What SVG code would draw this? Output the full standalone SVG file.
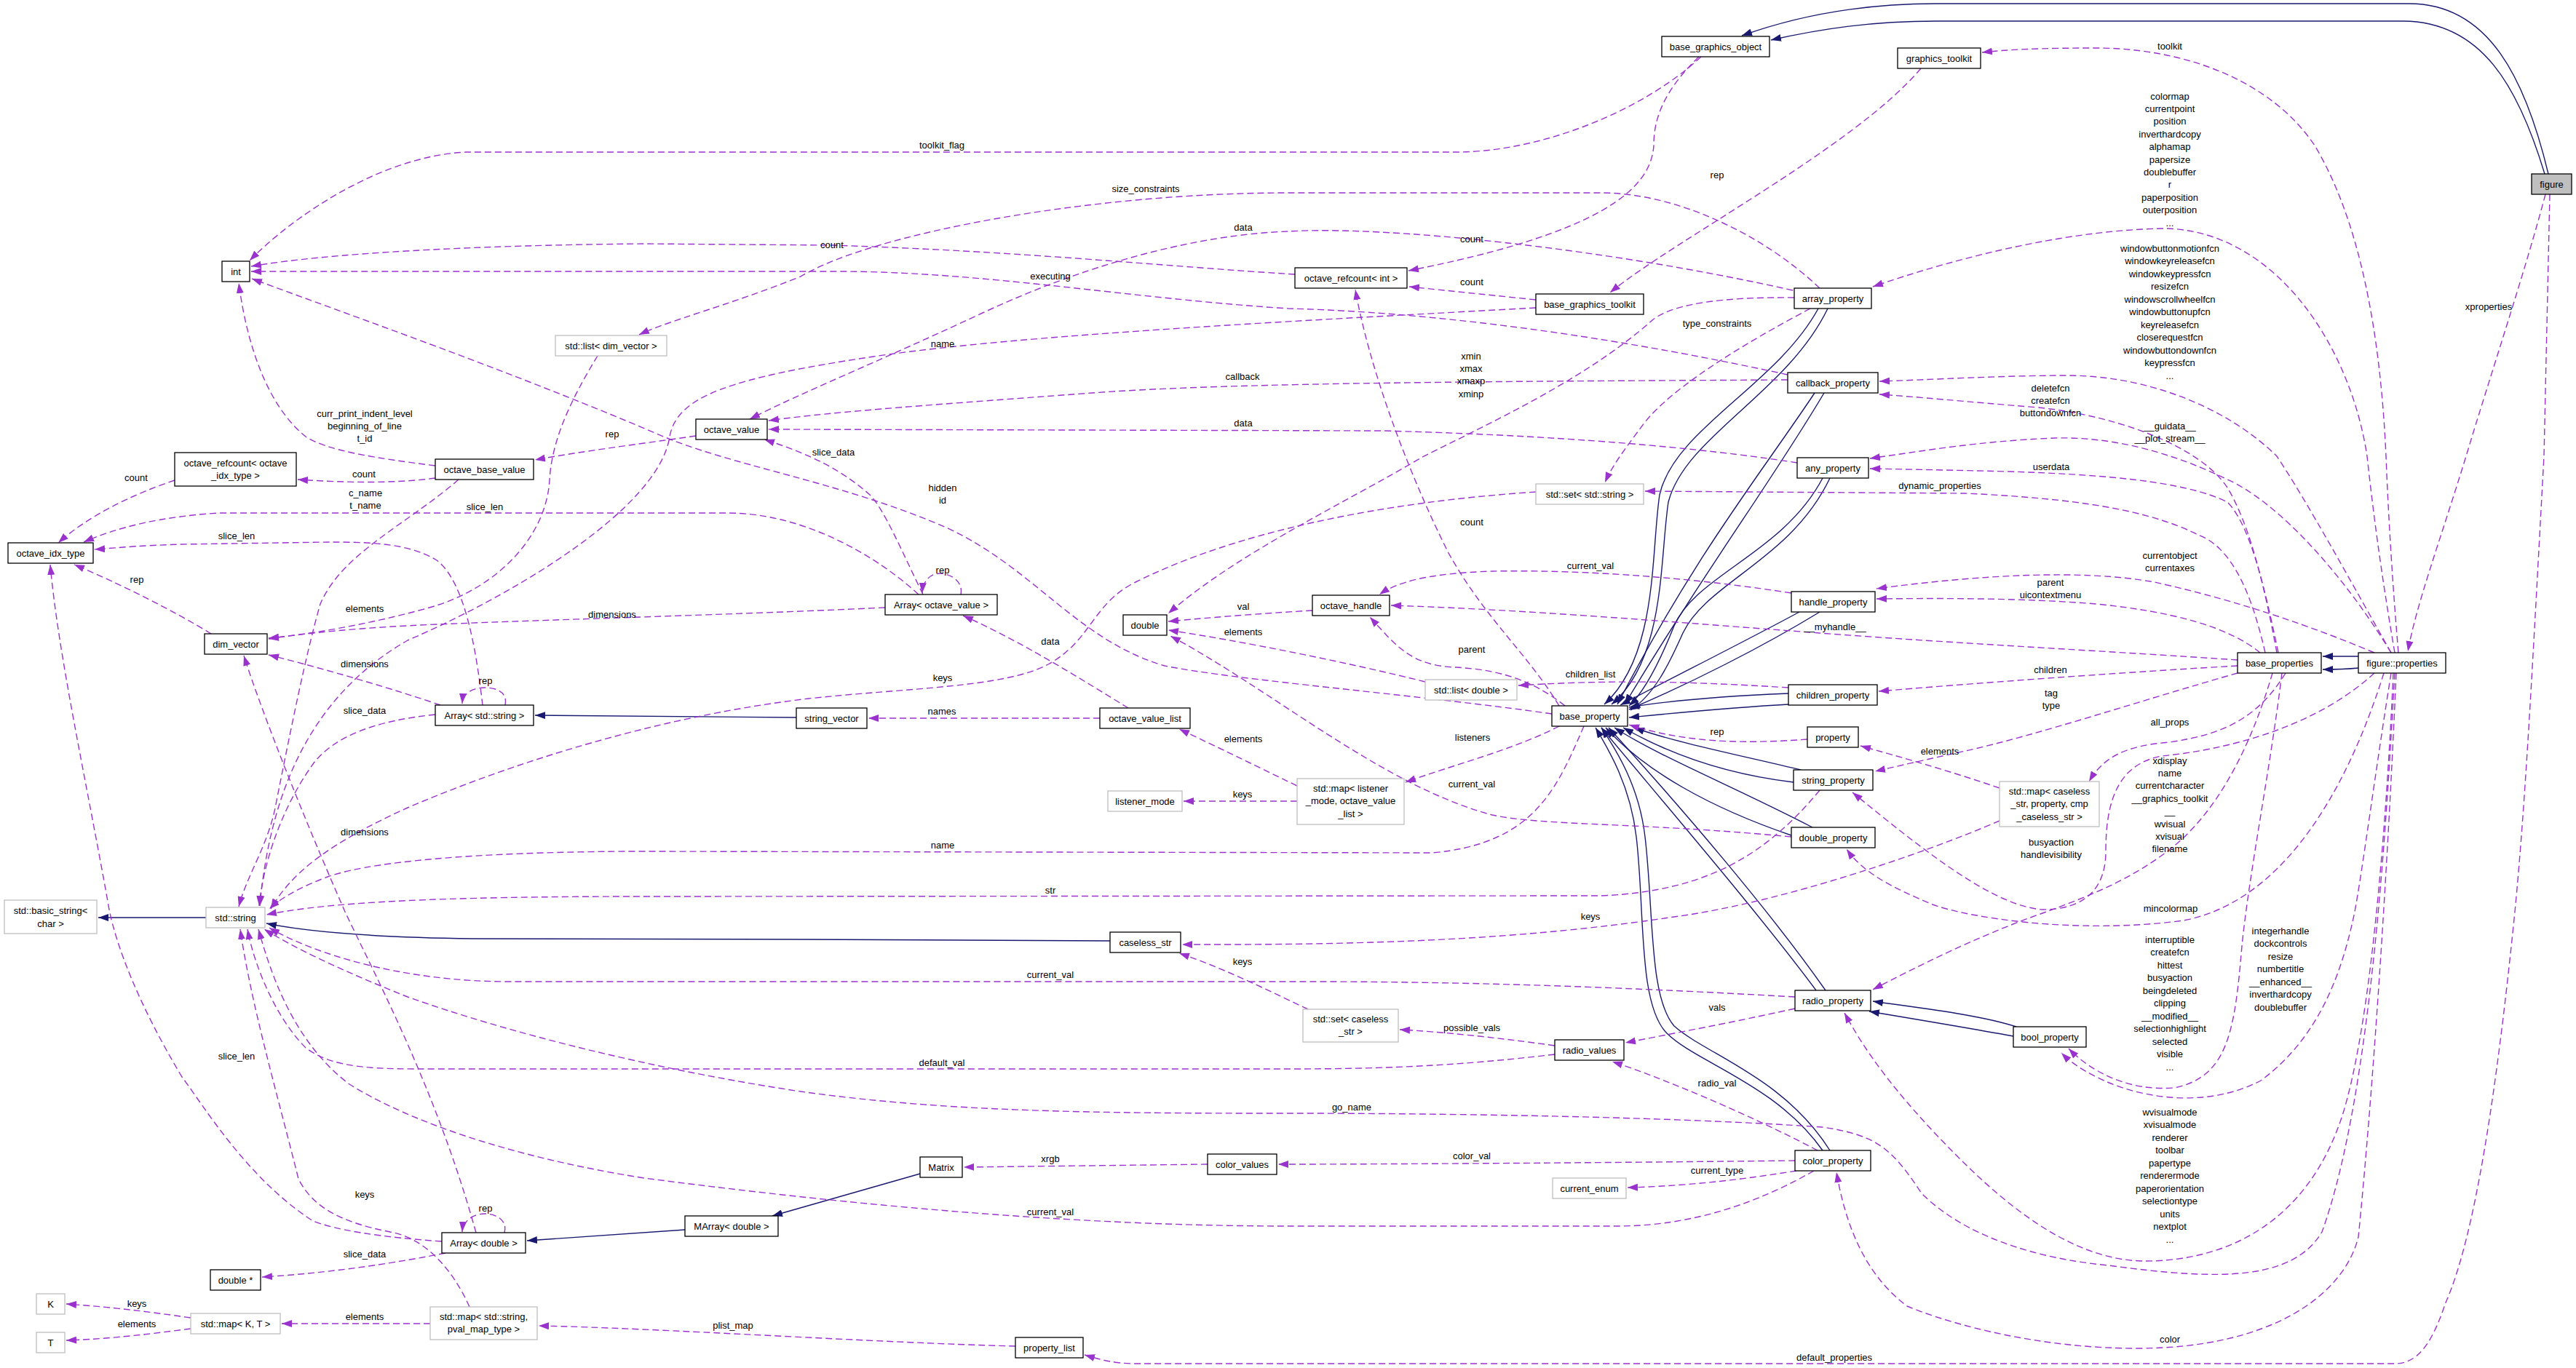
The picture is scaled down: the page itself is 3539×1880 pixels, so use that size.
<svg xmlns="http://www.w3.org/2000/svg" width="3539" height="1880" viewBox="0 0 3539 1880">
<style>
.nd{fill:#fff;stroke:#000;stroke-width:1.3}
.ng{fill:#fff;stroke:#bfbfbf;stroke-width:1.3}
.nh{fill:#bfbfbf;stroke:#000;stroke-width:1.3}
text{font-family:"Liberation Sans",Arial,sans-serif;font-size:13px;text-anchor:middle;fill:#000}
.u{fill:none;stroke:#9a32cd;stroke-width:1.4;stroke-dasharray:9,5;marker-end:url(#ap)}
.i{fill:none;stroke:#191970;stroke-width:1.4;marker-end:url(#ai)}
</style>
<defs>
<marker id="ap" viewBox="0 0 14 10" refX="14" refY="5" markerWidth="14" markerHeight="10" markerUnits="userSpaceOnUse" orient="auto"><path d="M0,0 L14,5 L0,10 z" fill="#9a32cd"/></marker>
<marker id="ai" viewBox="0 0 14 10" refX="14" refY="5" markerWidth="14" markerHeight="10" markerUnits="userSpaceOnUse" orient="auto"><path d="M0,0 L14,5 L0,10 z" fill="#191970"/></marker>
</defs>
<rect width="3539" height="1880" fill="#fff"/>
<g id="connectors">
<!-- inheritance -->
<path class="i" d="M3501,239 C3470,110 3420,5 3310,5 L2660,5 C2550,5 2460,25 2393,49"/>
<path class="i" d="M3496,239 C3460,120 3410,29 3300,29 L2660,29 C2570,29 2500,40 2433,55"/>
<path class="i" d="M3240,902 L3191,902"/>
<path class="i" d="M3240,918 C3220,920 3210,920 3191,920"/>
<path class="i" d="M2498,424 C2440,530 2300,590 2280,680 C2268,760 2278,900 2204,968"/>
<path class="i" d="M2511,424 C2455,540 2315,600 2292,690 C2280,770 2288,905 2214,968"/>
<path class="i" d="M2493,540 C2420,650 2330,760 2222,968"/>
<path class="i" d="M2506,540 C2435,660 2345,780 2232,968"/>
<path class="i" d="M2504,657 C2450,760 2330,790 2300,860 C2280,910 2260,950 2238,970"/>
<path class="i" d="M2514,657 C2460,770 2345,800 2312,870 C2292,915 2272,955 2240,976"/>
<path class="i" d="M2472,841 C2400,880 2300,930 2226,969"/>
<path class="i" d="M2500,841 C2420,890 2320,940 2238,975"/>
<path class="i" d="M2457,953 C2380,956 2300,962 2238,972"/>
<path class="i" d="M2457,968 C2380,972 2300,980 2238,986"/>
<path class="i" d="M2474,1058 C2400,1040 2300,1020 2245,1000"/>
<path class="i" d="M2464,1075 C2380,1065 2300,1040 2230,1000"/>
<path class="i" d="M2490,1137 C2380,1080 2280,1040 2218,1000"/>
<path class="i" d="M2461,1148 C2350,1110 2260,1060 2206,1000"/>
<path class="i" d="M2495,1361 C2420,1260 2300,1120 2200,1000"/>
<path class="i" d="M2508,1361 C2430,1250 2310,1110 2210,1000"/>
<path class="i" d="M2504,1581 C2440,1490 2330,1460 2290,1420 C2250,1380 2260,1250 2248,1150 C2240,1080 2210,1030 2192,1000"/>
<path class="i" d="M2514,1581 C2450,1480 2345,1450 2300,1410 C2265,1370 2272,1250 2260,1150 C2252,1080 2220,1030 2200,1000"/>
<path class="i" d="M2770,1411 C2720,1395 2650,1387 2573,1376"/>
<path class="i" d="M2766,1424 C2700,1412 2640,1402 2568,1390"/>
<path class="i" d="M1094,986 L735,983"/>
<path class="i" d="M283,1261 L135,1261"/>
<path class="i" d="M1525,1293 L1100,1291 L650,1290 C500,1288 420,1280 366,1269"/>
<path class="i" d="M941,1690 L724,1705"/>
<path class="i" d="M1264,1613 L1061,1671"/>
<!-- usage -->
<path class="u" d="M1779,377 C1600,366 1400,345 1143,337 L885,335 C650,337 450,348 345,366"/>
<path class="u" d="M2337,78 C2260,150 2120,209 2000,209 L640,209 C520,215 400,300 343,358"/>
<path class="u" d="M2334,78 C2280,130 2272,170 2272,200 C2268,260 2200,320 1935,372"/>
<path class="u" d="M2639,94 C2550,200 2300,330 2212,402"/>
<path class="u" d="M2110,412 L1936,394"/>
<path class="u" d="M2110,423 C1800,440 1400,460 1200,490 C1000,520 930,545 920,600 C905,700 700,820 560,880 C420,960 370,1100 357,1245"/>
<path class="u" d="M2500,396 C2420,320 2300,265 2200,265 L1770,265 C1500,265 1200,320 1100,380 C1000,420 920,440 878,460"/>
<path class="u" d="M2463,399 C2200,340 1900,310 1770,318 C1650,322 1500,360 1350,430 C1200,500 1100,540 1030,576"/>
<path class="u" d="M2487,424 C2400,470 2300,530 2260,580 C2230,620 2215,640 2205,663"/>
<path class="u" d="M2465,409 C2380,408 2300,415 2270,440 C2180,520 2050,580 1956,627 C1850,690 1700,760 1605,843"/>
<path class="u" d="M2456,522 C2100,524 1700,525 1500,540 C1300,555 1150,565 1056,578"/>
<path class="u" d="M2456,515 C2250,470 2000,430 1770,424 C1550,410 1350,373 1150,373 L345,373"/>
<path class="u" d="M2469,636 C2380,622 2200,600 1900,592 L1056,590"/>
<path class="u" d="M2461,815 C2300,790 2150,783 2050,785 C1960,788 1920,800 1895,817"/>
<path class="u" d="M1803,839 C1750,842 1680,847 1605,854"/>
<path class="u" d="M1958,937 C1850,910 1700,880 1605,866"/>
<path class="u" d="M2461,1150 C2250,1130 2120,1135 2050,1120 C1900,1080 1750,950 1608,874"/>
<path class="u" d="M2457,945 C2300,935 2200,935 2086,942"/>
<path class="u" d="M2142,970 C2100,900 2040,850 1990,760 C1930,640 1880,500 1862,398"/>
<path class="u" d="M2150,970 C2100,930 2050,920 2000,917 C1940,915 1920,890 1882,848"/>
<path class="u" d="M2132,981 C1950,955 1700,935 1600,915 C1480,880 1420,780 1300,725 C1150,660 1000,640 900,595 C700,510 500,440 346,383"/>
<path class="u" d="M2142,998 C2080,1030 2000,1050 1931,1075"/>
<path class="u" d="M2176,998 C2140,1080 2110,1160 1967,1172 L885,1170 C700,1170 520,1180 450,1205 C410,1220 385,1235 370,1249"/>
<path class="u" d="M2483,1016 C2400,1022 2320,1022 2238,996"/>
<path class="u" d="M1782,1101 L1626,1101"/>
<path class="u" d="M1782,1080 C1720,1050 1680,1030 1620,1002"/>
<path class="u" d="M1550,973 C1480,930 1400,880 1323,846"/>
<path class="u" d="M1511,987 L1193,987"/>
<path class="u" d="M1320,817 C1324,795 1300,788 1292,788 C1278,788 1268,798 1267,815"/>
<path class="u" d="M1268,817 C1240,760 1215,700 1195,680 C1150,640 1100,620 1050,604"/>
<path class="u" d="M1262,817 C1200,760 1100,705 1000,705 L300,705 C220,710 160,725 115,745"/>
<path class="u" d="M1216,835 C1000,845 800,850 600,858 C500,862 420,870 369,878"/>
<path class="u" d="M694,969 C698,950 680,945 666,945 C650,945 636,952 635,967"/>
<path class="u" d="M605,969 C550,950 450,920 369,900"/>
<path class="u" d="M598,982 C520,990 460,1010 430,1050 C380,1120 360,1200 356,1245"/>
<path class="u" d="M663,969 C655,900 640,800 600,770 C560,745 500,745 450,745 L250,748 C180,750 150,754 130,755"/>
<path class="u" d="M290,871 C240,840 160,800 102,776"/>
<path class="u" d="M240,660 C180,680 120,710 80,746"/>
<path class="u" d="M598,657 C540,665 470,663 409,659"/>
<path class="u" d="M956,599 C880,610 800,620 735,632"/>
<path class="u" d="M598,640 C520,630 450,620 420,600 C370,560 340,480 328,389"/>
<path class="u" d="M630,659 C560,720 470,760 440,830 C420,900 400,1000 380,1100 C370,1160 340,1200 328,1246"/>
<path class="u" d="M821,489 C790,540 758,600 755,660 C750,740 680,810 590,835 C500,860 420,872 369,877"/>
<path class="u" d="M693,1694 C698,1676 680,1668 666,1668 C650,1668 636,1678 635,1693"/>
<path class="u" d="M654,1694 C600,1500 520,1350 474,1253 C420,1130 360,980 335,901"/>
<path class="u" d="M612,1722 C520,1740 440,1750 360,1755"/>
<path class="u" d="M607,1706 C520,1700 460,1690 430,1678 C340,1620 280,1520 250,1480 C190,1380 160,1300 150,1250 C120,1080 80,900 69,776"/>
<path class="u" d="M262,1811 C200,1802 150,1796 91,1792"/>
<path class="u" d="M262,1826 C200,1834 150,1840 91,1842"/>
<path class="u" d="M591,1819 L387,1819"/>
<path class="u" d="M645,1796 C620,1740 580,1700 536,1693 C470,1680 430,1660 410,1620 C380,1500 345,1380 330,1277"/>
<path class="u" d="M1395,1850 C1200,1845 900,1825 740,1822"/>
<path class="u" d="M3503,267 L3495,627 C3480,900 3470,1100 3455,1253 C3430,1500 3400,1700 3360,1790 C3340,1850 3320,1874 3290,1874 L1560,1874 C1530,1874 1510,1868 1490,1862"/>
<path class="u" d="M3497,267 C3470,370 3420,520 3388,627 C3350,750 3320,830 3308,895"/>
<path class="u" d="M3295,897 C3285,780 3280,680 3278,627 C3270,450 3240,300 3180,200 C3120,110 3000,66 2880,66 C2800,66 2760,68 2723,72"/>
<path class="u" d="M3290,897 C3270,780 3260,700 3252,627 C3230,480 3130,320 2978,314 C2850,315 2700,350 2573,394"/>
<path class="u" d="M3285,897 C3230,800 3170,690 3128,627 C3060,560 2950,516 2840,516 C2750,516 2650,522 2582,524"/>
<path class="u" d="M3128,897 C3110,800 3090,720 3060,670 C3020,610 2900,570 2800,560 C2700,552 2630,545 2582,542"/>
<path class="u" d="M3285,897 C3220,790 3130,690 3060,659 C2980,620 2900,600 2823,602 C2720,606 2640,620 2569,630"/>
<path class="u" d="M3130,897 C3110,800 3090,720 3060,690 C3000,660 2880,652 2760,648 C2680,646 2620,645 2569,644"/>
<path class="u" d="M3112,897 C3090,800 3060,750 3020,735 C2950,700 2850,685 2700,678 L2260,675"/>
<path class="u" d="M3262,897 C3150,850 3050,820 2960,800 C2860,782 2720,790 2578,809"/>
<path class="u" d="M3105,897 C3060,860 2980,840 2880,830 C2780,822 2680,822 2578,823"/>
<path class="u" d="M3074,907 C2900,895 2700,885 2500,870 C2300,855 2100,838 1911,832"/>
<path class="u" d="M3074,915 C2900,925 2700,940 2581,950"/>
<path class="u" d="M3074,925 C2950,960 2800,1010 2700,1032 C2650,1043 2620,1050 2576,1060"/>
<path class="u" d="M3140,925 C3100,990 3050,1010 2980,1020 C2920,1025 2890,1040 2870,1074"/>
<path class="u" d="M2747,1083 C2680,1060 2610,1040 2556,1025"/>
<path class="u" d="M2747,1128 C2650,1170 2450,1240 2300,1260 C2100,1290 1900,1299 1624,1298"/>
<path class="u" d="M1797,1387 C1740,1360 1680,1330 1620,1310"/>
<path class="u" d="M2466,1370 C2200,1355 2000,1349 1800,1349 L700,1349 C550,1349 430,1310 370,1275"/>
<path class="u" d="M2466,1386 C2380,1405 2300,1420 2233,1433"/>
<path class="u" d="M2136,1437 C2050,1425 1980,1418 1923,1415"/>
<path class="u" d="M2136,1449 C2000,1465 1900,1469 1770,1469 L600,1469 C520,1469 460,1470 420,1440 C380,1400 350,1330 340,1277"/>
<path class="u" d="M2497,1581 C2400,1530 2280,1480 2215,1459"/>
<path class="u" d="M2466,1595 C2200,1598 1900,1600 1756,1600"/>
<path class="u" d="M2468,1609 C2400,1620 2320,1630 2236,1632"/>
<path class="u" d="M2492,1609 C2420,1650 2330,1685 2221,1685 L1770,1685 C1500,1685 1200,1660 885,1619 C700,1590 560,1540 480,1490 C400,1430 370,1330 355,1277"/>
<path class="u" d="M1659,1600 L1324,1604"/>
<path class="u" d="M3290,925 C3280,1100 3260,1500 3190,1693 C3150,1760 3050,1760 2897,1739 C2800,1730 2700,1700 2640,1640 C2600,1580 2580,1560 2504,1549 C2300,1535 2000,1530 1770,1530 C1500,1530 1300,1528 1100,1500 C900,1470 700,1420 560,1370 C460,1330 400,1300 363,1277"/>
<path class="u" d="M3288,925 C3280,1100 3260,1400 3218,1533 C3170,1680 3060,1733 2947,1733 C2850,1733 2760,1660 2690,1590 C2600,1500 2560,1440 2534,1392"/>
<path class="u" d="M3262,925 C3180,1000 3060,1030 2970,1039 C2910,1050 2893,1100 2893,1170 C2893,1225 2860,1250 2806,1250 C2740,1245 2650,1175 2545,1089"/>
<path class="u" d="M3122,925 C3100,1000 3060,1100 2990,1160 C2930,1210 2860,1235 2806,1255 C2720,1285 2630,1330 2573,1360"/>
<path class="u" d="M3275,925 C3220,1100 3130,1240 3000,1265 C2850,1285 2700,1260 2655,1243 C2600,1220 2560,1200 2537,1167"/>
<path class="u" d="M3135,925 C3120,1050 3090,1200 3080,1300 C3070,1420 3060,1480 2987,1495 C2920,1500 2870,1470 2842,1441"/>
<path class="u" d="M3285,925 C3265,1050 3245,1200 3235,1253 C3215,1350 3180,1430 3106,1485 C3040,1520 2950,1515 2880,1480 C2860,1470 2845,1460 2832,1447"/>
<path class="u" d="M3292,925 C3280,1200 3260,1500 3240,1700 C3220,1780 3120,1853 2936,1853 C2800,1853 2680,1820 2620,1795 C2560,1750 2535,1680 2523,1611"/>
<path class="u" d="M2110,676 C1900,690 1700,730 1560,800 C1500,830 1500,880 1440,913 C1380,945 1250,945 1111,960 C900,985 700,1050 560,1110 C450,1160 400,1200 372,1249"/>
<path class="u" d="M2500,1086 C2430,1170 2350,1225 2199,1231 L885,1232 C600,1232 450,1240 366,1257"/>
<!-- labels -->
<text x="1294" y="203.5">toolkit_flag</text>
<text x="1574" y="263.5">size_constraints</text>
<text x="1708" y="316.5">data</text>
<text x="1143" y="340.5">count</text>
<text x="1443" y="383.5">executing</text>
<text x="1295" y="476.5">name</text>
<text x="1707" y="521.5">callback</text>
<text x="1708" y="585.5">data</text>
<text x="1145" y="625.5">slice_data</text>
<text x="2359" y="244.5">rep</text>
<text x="2022" y="332.5">count</text>
<text x="2022" y="391.5">count</text>
<text x="2359" y="448.5">type_constraints</text>
<text x="2021" y="493.5">xmin<tspan x="2021" dy="17.4">xmax</tspan><tspan x="2021" dy="17.4">xmaxp</tspan><tspan x="2021" dy="17.4">xminp</tspan></text>
<text x="2981" y="67.5">toolkit</text>
<text x="2981" y="136.5">colormap<tspan x="2981" dy="17.4">currentpoint</tspan><tspan x="2981" dy="17.4">position</tspan><tspan x="2981" dy="17.4">inverthardcopy</tspan><tspan x="2981" dy="17.4">alphamap</tspan><tspan x="2981" dy="17.4">papersize</tspan><tspan x="2981" dy="17.4">doublebuffer</tspan><tspan x="2981" dy="17.4">r</tspan><tspan x="2981" dy="17.4">paperposition</tspan><tspan x="2981" dy="17.4">outerposition</tspan><tspan x="2981" dy="17.4">...</tspan></text>
<text x="2981" y="345.5">windowbuttonmotionfcn<tspan x="2981" dy="17.5">windowkeyreleasefcn</tspan><tspan x="2981" dy="17.5">windowkeypressfcn</tspan><tspan x="2981" dy="17.5">resizefcn</tspan><tspan x="2981" dy="17.5">windowscrollwheelfcn</tspan><tspan x="2981" dy="17.5">windowbuttonupfcn</tspan><tspan x="2981" dy="17.5">keyreleasefcn</tspan><tspan x="2981" dy="17.5">closerequestfcn</tspan><tspan x="2981" dy="17.5">windowbuttondownfcn</tspan><tspan x="2981" dy="17.5">keypressfcn</tspan><tspan x="2981" dy="17.5">...</tspan></text>
<text x="2817" y="537.5">deletefcn<tspan x="2817" dy="17.4">createfcn</tspan><tspan x="2817" dy="17.4">buttondownfcn</tspan></text>
<text x="2981" y="589.5">__guidata__<tspan x="2981" dy="17.4">__plot_stream__</tspan></text>
<text x="3419" y="425.5">xproperties</text>
<text x="501" y="572.5">curr_print_indent_level<tspan x="501" dy="17.4">beginning_of_line</tspan><tspan x="501" dy="17.4">t_id</tspan></text>
<text x="841" y="600.5">rep</text>
<text x="187" y="660.5">count</text>
<text x="500" y="655.5">count</text>
<text x="502" y="681.5">c_name<tspan x="502" dy="17.4">t_name</tspan></text>
<text x="666" y="700.5">slice_len</text>
<text x="325" y="740.5">slice_len</text>
<text x="188" y="800.5">rep</text>
<text x="501" y="840.5">elements</text>
<text x="841" y="848.5">dimensions</text>
<text x="501" y="916.5">dimensions</text>
<text x="667" y="939.5">rep</text>
<text x="501" y="980.5">slice_data</text>
<text x="501" y="1147.5">dimensions</text>
<text x="1295" y="674.5">hidden<tspan x="1295" dy="17.4">id</tspan></text>
<text x="1295" y="787.5">rep</text>
<text x="1708" y="837.5">val</text>
<text x="1708" y="872.5">elements</text>
<text x="1443" y="885.5">data</text>
<text x="1295" y="935.5">keys</text>
<text x="1294" y="981.5">names</text>
<text x="1708" y="1019.5">elements</text>
<text x="1707" y="1095.5">keys</text>
<text x="1295" y="1165.5">name</text>
<text x="1443" y="1227.5">str</text>
<text x="2665" y="671.5">dynamic_properties</text>
<text x="2022" y="721.5">count</text>
<text x="2185" y="781.5">current_val</text>
<text x="2521" y="865.5">__myhandle__</text>
<text x="2022" y="896.5">parent</text>
<text x="2185" y="930.5">children_list</text>
<text x="2359" y="1009.5">rep</text>
<text x="2023" y="1017.5">listeners</text>
<text x="2022" y="1081.5">current_val</text>
<text x="2665" y="1036.5">elements</text>
<text x="2818" y="645.5">userdata</text>
<text x="2981" y="767.5">currentobject<tspan x="2981" dy="17.4">currentaxes</tspan></text>
<text x="2817" y="804.5">parent<tspan x="2817" dy="17.4">uicontextmenu</tspan></text>
<text x="2817" y="924.5">children</text>
<text x="2818" y="956.5">tag<tspan x="2818" dy="17.4">type</tspan></text>
<text x="2981" y="996.5">all_props</text>
<text x="2981" y="1049.5">xdisplay<tspan x="2981" dy="17.4">name</tspan><tspan x="2981" dy="17.4">currentcharacter</tspan><tspan x="2981" dy="17.4">__graphics_toolkit</tspan><tspan x="2981" dy="17.4">__</tspan><tspan x="2981" dy="17.4">wvisual</tspan><tspan x="2981" dy="17.4">xvisual</tspan><tspan x="2981" dy="17.4">filename</tspan></text>
<text x="2818" y="1161.5">busyaction<tspan x="2818" dy="17.4">handlevisibility</tspan></text>
<text x="2982" y="1252.5">mincolormap</text>
<text x="325" y="1455.5">slice_len</text>
<text x="501" y="1645.5">keys</text>
<text x="667" y="1664.5">rep</text>
<text x="501" y="1727.5">slice_data</text>
<text x="188" y="1795.5">keys</text>
<text x="188" y="1823.5">elements</text>
<text x="501" y="1813.5">elements</text>
<text x="1707" y="1325.5">keys</text>
<text x="1443" y="1343.5">current_val</text>
<text x="1294" y="1464.5">default_val</text>
<text x="1443" y="1596.5">xrgb</text>
<text x="1443" y="1669.5">current_val</text>
<text x="1007" y="1825.5">plist_map</text>
<text x="2185" y="1263.5">keys</text>
<text x="2359" y="1388.5">vals</text>
<text x="2022" y="1416.5">possible_vals</text>
<text x="2359" y="1492.5">radio_val</text>
<text x="1857" y="1525.5">go_name</text>
<text x="2022" y="1592.5">color_val</text>
<text x="2359" y="1612.5">current_type</text>
<text x="2520" y="1869.5">default_properties</text>
<text x="2981" y="1295.5">interruptible<tspan x="2981" dy="17.5">createfcn</tspan><tspan x="2981" dy="17.5">hittest</tspan><tspan x="2981" dy="17.5">busyaction</tspan><tspan x="2981" dy="17.5">beingdeleted</tspan><tspan x="2981" dy="17.5">clipping</tspan><tspan x="2981" dy="17.5">__modified__</tspan><tspan x="2981" dy="17.5">selectionhighlight</tspan><tspan x="2981" dy="17.5">selected</tspan><tspan x="2981" dy="17.5">visible</tspan><tspan x="2981" dy="17.5">...</tspan></text>
<text x="3133" y="1283.5">integerhandle<tspan x="3133" dy="17.5">dockcontrols</tspan><tspan x="3133" dy="17.5">resize</tspan><tspan x="3133" dy="17.5">numbertitle</tspan><tspan x="3133" dy="17.5">__enhanced__</tspan><tspan x="3133" dy="17.5">inverthardcopy</tspan><tspan x="3133" dy="17.5">doublebuffer</tspan></text>
<text x="2981" y="1532.5">wvisualmode<tspan x="2981" dy="17.5">xvisualmode</tspan><tspan x="2981" dy="17.5">renderer</tspan><tspan x="2981" dy="17.5">toolbar</tspan><tspan x="2981" dy="17.5">papertype</tspan><tspan x="2981" dy="17.5">renderermode</tspan><tspan x="2981" dy="17.5">paperorientation</tspan><tspan x="2981" dy="17.5">selectiontype</tspan><tspan x="2981" dy="17.5">units</tspan><tspan x="2981" dy="17.5">nextplot</tspan><tspan x="2981" dy="17.5">...</tspan></text>
<text x="2981" y="1844.5">color</text>
</g>
<g id="n-figure"><rect class="nh" x="3478" y="239" width="55" height="28"/><text x="3505.5" y="257.5">figure</text></g>
<g id="n-base_graphics_object"><rect class="nd" x="2283" y="50" width="148" height="28"/><text x="2357" y="68.5">base_graphics_object</text></g>
<g id="n-graphics_toolkit"><rect class="nd" x="2607" y="66" width="114" height="28"/><text x="2664" y="84.5">graphics_toolkit</text></g>
<g id="n-int"><rect class="nd" x="305" y="359" width="38" height="28"/><text x="324" y="377.5">int</text></g>
<g id="n-list_dim_vector"><rect class="ng" x="763" y="461" width="153" height="28"/><text x="839.5" y="479.5">std::list&lt; dim_vector &gt;</text></g>
<g id="n-octave_refcount_int"><rect class="nd" x="1779" y="368" width="154" height="28"/><text x="1856" y="386.5">octave_refcount&lt; int &gt;</text></g>
<g id="n-base_graphics_toolkit"><rect class="nd" x="2110" y="404" width="148" height="28"/><text x="2184" y="422.5">base_graphics_toolkit</text></g>
<g id="n-array_property"><rect class="nd" x="2465" y="396" width="106" height="28"/><text x="2518" y="414.5">array_property</text></g>
<g id="n-callback_property"><rect class="nd" x="2456" y="512" width="124" height="28"/><text x="2518" y="530.5">callback_property</text></g>
<g id="n-octave_value"><rect class="nd" x="956" y="576" width="98" height="28"/><text x="1005" y="594.5">octave_value</text></g>
<g id="n-octave_refcount_idx"><rect class="nd" x="240" y="622" width="167" height="46"/><text x="323.5" y="640.5">octave_refcount&lt; octave<tspan x="323.5" dy="17">_idx_type &gt;</tspan></text></g>
<g id="n-octave_base_value"><rect class="nd" x="598" y="631" width="135" height="28"/><text x="665.5" y="649.5">octave_base_value</text></g>
<g id="n-octave_idx_type"><rect class="nd" x="11" y="746" width="117" height="28"/><text x="69.5" y="764.5">octave_idx_type</text></g>
<g id="n-dim_vector"><rect class="nd" x="281" y="871" width="86" height="28"/><text x="324" y="889.5">dim_vector</text></g>
<g id="n-array_string"><rect class="nd" x="598" y="969" width="135" height="28"/><text x="665.5" y="987.5">Array&lt; std::string &gt;</text></g>
<g id="n-basic_string"><rect class="ng" x="6" y="1237" width="127" height="46"/><text x="69.5" y="1255.5">std::basic_string&lt;<tspan x="69.5" dy="18">char &gt;</tspan></text></g>
<g id="n-std_string"><rect class="ng" x="283" y="1247" width="81" height="28"/><text x="323.5" y="1265.5">std::string</text></g>
<g id="n-array_octave_value"><rect class="nd" x="1216" y="817" width="154" height="28"/><text x="1293" y="835.5">Array&lt; octave_value &gt;</text></g>
<g id="n-double"><rect class="nd" x="1543" y="845" width="60" height="28"/><text x="1573" y="863.5">double</text></g>
<g id="n-string_vector"><rect class="nd" x="1094" y="973" width="97" height="28"/><text x="1142.5" y="991.5">string_vector</text></g>
<g id="n-octave_value_list"><rect class="nd" x="1511" y="973" width="124" height="28"/><text x="1573" y="991.5">octave_value_list</text></g>
<g id="n-listener_mode"><rect class="ng" x="1522" y="1087" width="102" height="28"/><text x="1573" y="1105.5">listener_mode</text></g>
<g id="n-any_property"><rect class="nd" x="2469" y="629" width="98" height="28"/><text x="2518" y="647.5">any_property</text></g>
<g id="n-set_string"><rect class="ng" x="2110" y="665" width="148" height="28"/><text x="2184" y="683.5">std::set&lt; std::string &gt;</text></g>
<g id="n-octave_handle"><rect class="nd" x="1803" y="818" width="106" height="28"/><text x="1856" y="836.5">octave_handle</text></g>
<g id="n-handle_property"><rect class="nd" x="2461" y="813" width="115" height="28"/><text x="2518.5" y="831.5">handle_property</text></g>
<g id="n-list_double"><rect class="ng" x="1958" y="934" width="126" height="28"/><text x="2021" y="952.5">std::list&lt; double &gt;</text></g>
<g id="n-children_property"><rect class="nd" x="2457" y="941" width="122" height="28"/><text x="2518" y="959.5">children_property</text></g>
<g id="n-base_property"><rect class="nd" x="2132" y="970" width="104" height="28"/><text x="2184" y="988.5">base_property</text></g>
<g id="n-property"><rect class="nd" x="2483" y="999" width="70" height="28"/><text x="2518" y="1017.5">property</text></g>
<g id="n-string_property"><rect class="nd" x="2464" y="1058" width="109" height="28"/><text x="2518.5" y="1076.5">string_property</text></g>
<g id="n-map_listener"><rect class="ng" x="1782" y="1070" width="147" height="63"/><text x="1855.5" y="1088">std::map&lt; listener<tspan x="1855.5" dy="17.4">_mode, octave_value</tspan><tspan x="1855.5" dy="17.4">_list &gt;</tspan></text></g>
<g id="n-double_property"><rect class="nd" x="2461" y="1137" width="115" height="28"/><text x="2518.5" y="1155.5">double_property</text></g>
<g id="n-base_properties"><rect class="nd" x="3074" y="897" width="115" height="28"/><text x="3131.5" y="915.5">base_properties</text></g>
<g id="n-figure_properties"><rect class="nd" x="3240" y="897" width="120" height="28"/><text x="3300" y="915.5">figure::properties</text></g>
<g id="n-map_caseless"><rect class="ng" x="2747" y="1074" width="137" height="62"/><text x="2815.5" y="1092">std::map&lt; caseless<tspan x="2815.5" dy="17.4">_str, property, cmp</tspan><tspan x="2815.5" dy="17.4">_caseless_str &gt;</tspan></text></g>
<g id="n-array_double"><rect class="nd" x="607" y="1694" width="115" height="28"/><text x="664.5" y="1712.5">Array&lt; double &gt;</text></g>
<g id="n-double_ptr"><rect class="nd" x="289" y="1745" width="69" height="28"/><text x="323.5" y="1763.5">double *</text></g>
<g id="n-K"><rect class="ng" x="50" y="1778" width="39" height="28"/><text x="69.5" y="1796.5">K</text></g>
<g id="n-T"><rect class="ng" x="50" y="1831" width="39" height="28"/><text x="69.5" y="1849.5">T</text></g>
<g id="n-map_KT"><rect class="ng" x="262" y="1805" width="123" height="28"/><text x="323.5" y="1823.5">std::map&lt; K, T &gt;</text></g>
<g id="n-map_pval"><rect class="ng" x="591" y="1796" width="147" height="45"/><text x="664.5" y="1814">std::map&lt; std::string,<tspan x="664.5" dy="17.4">pval_map_type &gt;</tspan></text></g>
<g id="n-caseless_str"><rect class="nd" x="1525" y="1281" width="97" height="28"/><text x="1573.5" y="1299.5">caseless_str</text></g>
<g id="n-Matrix"><rect class="nd" x="1264" y="1590" width="58" height="28"/><text x="1293" y="1608.5">Matrix</text></g>
<g id="n-color_values"><rect class="nd" x="1659" y="1586" width="95" height="28"/><text x="1706.5" y="1604.5">color_values</text></g>
<g id="n-MArray_double"><rect class="nd" x="941" y="1671" width="128" height="28"/><text x="1005" y="1689.5">MArray&lt; double &gt;</text></g>
<g id="n-property_list"><rect class="nd" x="1395" y="1838" width="93" height="28"/><text x="1441.5" y="1856.5">property_list</text></g>
<g id="n-set_caseless"><rect class="ng" x="1790" y="1387" width="131" height="45"/><text x="1855.5" y="1405">std::set&lt; caseless<tspan x="1855.5" dy="17.4">_str &gt;</tspan></text></g>
<g id="n-radio_property"><rect class="nd" x="2466" y="1361" width="104" height="28"/><text x="2518" y="1379.5">radio_property</text></g>
<g id="n-radio_values"><rect class="nd" x="2136" y="1429" width="95" height="28"/><text x="2183.5" y="1447.5">radio_values</text></g>
<g id="n-color_property"><rect class="nd" x="2466" y="1581" width="104" height="28"/><text x="2518" y="1599.5">color_property</text></g>
<g id="n-current_enum"><rect class="ng" x="2133" y="1619" width="101" height="28"/><text x="2183.5" y="1637.5">current_enum</text></g>
<g id="n-bool_property"><rect class="nd" x="2766" y="1411" width="100" height="28"/><text x="2816" y="1429.5">bool_property</text></g>
</svg>
